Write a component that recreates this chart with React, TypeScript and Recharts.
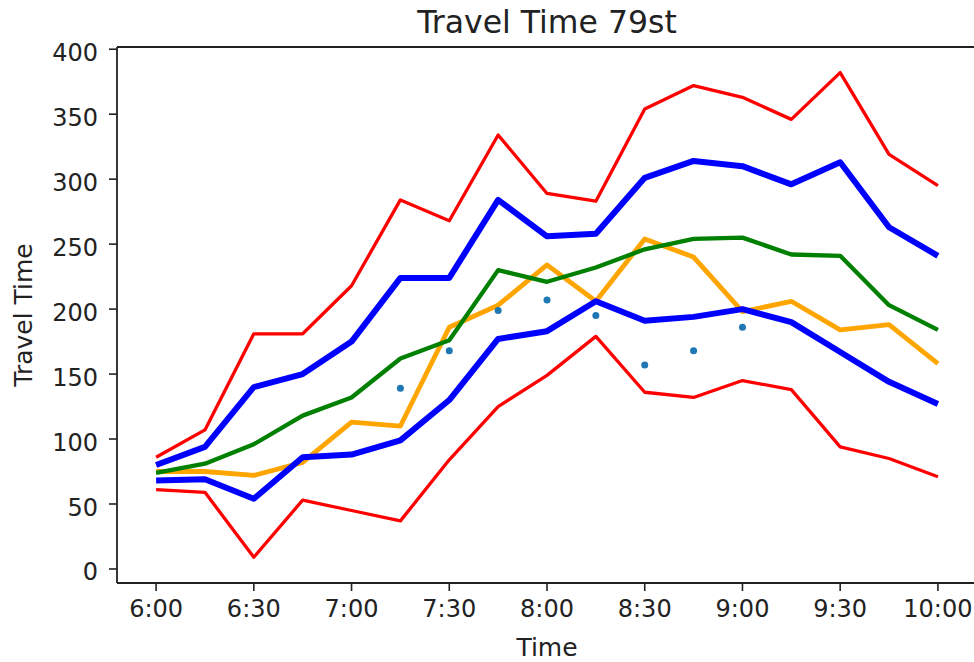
import { LineChart, Line, XAxis, YAxis, Label } from "recharts";

// 15 minute steps from 6:00 to 10:00
const times = [
  "6:00", "6:15", "6:30", "6:45", "7:00", "7:15", "7:30", "7:45", "8:00",
  "8:15", "8:30", "8:45", "9:00", "9:15", "9:30", "9:45", "10:00",
];
const xTicks = [0, 2, 4, 6, 8, 10, 12, 14, 16];
const yTicks = [0, 50, 100, 150, 200, 250, 300, 350, 400];

const redHigh = [86, 107, 181, 181, 218, 284, 268, 334, 289, 283, 354, 372, 363, 346, 382, 319, 295];
const blueHigh = [80, 94, 140, 150, 175, 224, 224, 284, 256, 258, 301, 314, 310, 296, 313, 263, 241];
const greenMean = [74, 81, 96, 118, 132, 162, 176, 230, 221, 232, 246, 254, 255, 242, 241, 203, 184];
const orangeLine = [75, 75, 72, 82, 113, 110, 186, 203, 234, 206, 254, 240, 198, 206, 184, 188, 158];
const blueLow = [68, 69, 54, 86, 88, 99, 130, 177, 183, 206, 191, 194, 200, 190, 167, 144, 127];
const redLow = [61, 59, 9, 53, 45, 37, 84, 125, 149, 179, 136, 132, 145, 138, 94, 85, 71];
const observed = [null, null, null, null, null, 139, 168, 199, 207, 195, 157, 168, 186, null, null, null, null];

const data = times.map((_, i) => ({
  t: i,
  redHigh: redHigh[i],
  blueHigh: blueHigh[i],
  green: greenMean[i],
  orange: orangeLine[i],
  blueLow: blueLow[i],
  redLow: redLow[i],
  obs: observed[i],
}));

const FONT = "DejaVu Sans, Bitstream Vera Sans, sans-serif";
const INK = "#222";

const TitleLabel = (props: any) => {
  const vb = props.viewBox;
  return (
    <text x={vb.x + vb.width / 2} y={33} textAnchor="middle" fontSize={31.5} fill={INK} fontFamily={FONT}>
      Travel Time 79st
    </text>
  );
};

const YLabel = (props: any) => {
  const vb = props.viewBox;
  const cx = 32;
  const cy = vb.y + vb.height / 2;
  return (
    <text x={cx} y={cy} transform={`rotate(-90 ${cx} ${cy})`} textAnchor="middle" fontSize={25} fill={INK} fontFamily={FONT}>
      Travel Time
    </text>
  );
};

export default function App() {
  const lineProps = { type: "linear" as const, dot: false, isAnimationActive: false, strokeLinejoin: "round" as const, legendType: "none" as const };
  return (
    <div style={{ position: "absolute", left: 0, top: 0, width: 974, height: 662, overflow: "hidden", background: "#fff" }}>
      <LineChart width={990} height={662} data={data} margin={{ top: 46, right: 13, bottom: 0, left: 0 }} style={{ fontFamily: FONT }}>
        <XAxis
          dataKey="t"
          type="number"
          domain={[-0.8, 16.8]}
          ticks={xTicks}
          tickFormatter={(v: number) => times[v]}
          allowDataOverflow
          height={79}
          tickSize={8}
          tickMargin={9}
          interval={0}
          axisLine={{ stroke: INK, strokeWidth: 1.8 }}
          tickLine={{ stroke: INK, strokeWidth: 1.6 }}
          tick={{ fontSize: 24, fill: INK, fontFamily: FONT }}
        >
          <Label value="Time" position="insideBottom" offset={6} fontSize={25} fill={INK} fontFamily={FONT} />
        </XAxis>
        <XAxis
          xAxisId="top"
          dataKey="t"
          type="number"
          orientation="top"
          domain={[-0.8, 16.8]}
          allowDataOverflow
          height={1}
          tick={false}
          tickLine={false}
          axisLine={{ stroke: INK, strokeWidth: 1.8 }}
        >
          <Label content={TitleLabel} />
        </XAxis>
        <YAxis
          type="number"
          domain={[-10.8, 401.7]}
          ticks={yTicks}
          allowDataOverflow
          width={117}
          tickSize={8}
          tickMargin={11}
          interval={0}
          axisLine={{ stroke: INK, strokeWidth: 1.8 }}
          tickLine={{ stroke: INK, strokeWidth: 1.6 }}
          tick={{ fontSize: 24, fill: INK, fontFamily: FONT, dy: 3 }}
        >
          <Label content={YLabel} />
        </YAxis>
        <Line {...lineProps} dataKey="orange" stroke="#ffa500" strokeWidth={4.8} />
        <Line {...lineProps} dataKey="green" stroke="#008000" strokeWidth={4.3} />
        <Line {...lineProps} dataKey="blueHigh" stroke="#0000ff" strokeWidth={6} />
        <Line {...lineProps} dataKey="blueLow" stroke="#0000ff" strokeWidth={6} />
        <Line {...lineProps} dataKey="redHigh" stroke="#ff0000" strokeWidth={3.3} />
        <Line {...lineProps} dataKey="redLow" stroke="#ff0000" strokeWidth={3.3} />
        <Line
          dataKey="obs"
          stroke="none"
          isAnimationActive={false}
          legendType="none"
          dot={{ r: 3.5, fill: "#1f77b4", stroke: "none" }}
          activeDot={false}
        />
      </LineChart>
    </div>
  );
}
